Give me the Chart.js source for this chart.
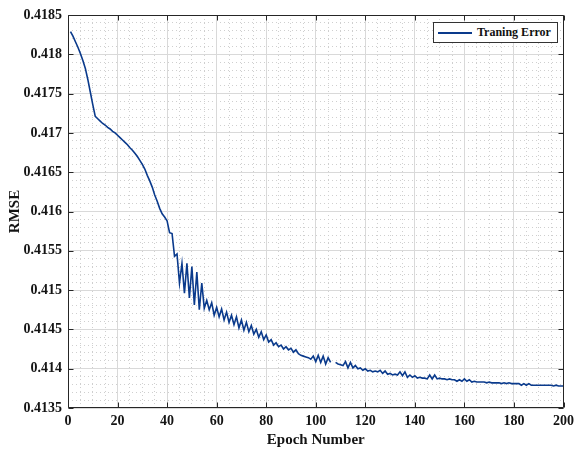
<!DOCTYPE html>
<html>
<head>
<meta charset="utf-8">
<script src="https://cdn.jsdelivr.net/npm/chart.js@4/dist/chart.umd.min.js"></script>
<style>
  html, body { margin: 0; padding: 0; background: #ffffff; }
  #wrap { position: relative; width: 579px; height: 451px; }
  #legend {
    position: absolute; left: 433px; top: 22px; width: 123px; height: 19px;
    border: 1px solid #333; background: #fff;
    font: bold 12px 'Liberation Serif', 'Times New Roman', serif; color: #111;
    display: flex; align-items: center;
  }
  #legend .swatch { display: inline-block; width: 34px; height: 2px; background: #0a3a8c; margin: 0 5px 0 4px; }
</style>
</head>
<body>
<div id="wrap">
  <canvas id="rmse-chart" width="579" height="451"></canvas>
  <div id="legend"><span class="swatch"></span><span id="legend-label"></span></div>
</div>
<script>
// Axis ticks
const xTicks = [0, 20, 40, 60, 80, 100, 120, 140, 160, 180, 200];
const yTicks = [0.4135, 0.414, 0.4145, 0.415, 0.4155, 0.416, 0.4165, 0.417, 0.4175, 0.418, 0.4185];
const yTickLabels = ['0.4135', '0.414', '0.4145', '0.415', '0.4155', '0.416', '0.4165', '0.417', '0.4175', '0.418', '0.4185'];

const seriesName = 'Traning Error';

// epochs 1..200
const epochs = Array.from({ length: 200 }, (_, i) => i + 1);

// RMSE, one value per epoch (null = break in the line)
const rmse = [
  0.41829, 0.41823, 0.41816, 0.41809, 0.41801, 0.41792, 0.41782, 0.41768, 0.41752, 0.41736,
  0.41721, 0.41718, 0.41715, 0.41712, 0.41710, 0.41707, 0.41705, 0.41702, 0.41700, 0.41697,
  0.41694, 0.41691, 0.41688, 0.41685, 0.41681, 0.41678, 0.41674, 0.41670, 0.41665, 0.41660,
  0.41654, 0.41646, 0.41639, 0.41631, 0.41621, 0.41613, 0.41604, 0.41597, 0.41593, 0.41588,
  0.41573, 0.41572, 0.41543, 0.41546, 0.41509, 0.41534, 0.41496, 0.41534, 0.41490, 0.41530,
  0.41481, 0.41523, 0.41475, 0.41509, 0.41477, 0.41487, 0.41475, 0.41484, 0.41468, 0.41478,
  0.41466, 0.41476, 0.41462, 0.41472, 0.41459, 0.41468, 0.41456, 0.41466, 0.41452, 0.41462,
  0.41449, 0.41459, 0.41447, 0.41455, 0.41444, 0.41450, 0.41440, 0.41447, 0.41437, 0.41443,
  0.41434, 0.41437, 0.41430, 0.41433, 0.41428, 0.41430, 0.41425, 0.41428, 0.41424, 0.41426,
  0.41421, 0.41424, 0.41419, 0.41417, 0.41416, 0.41415, 0.41414, 0.41412, 0.41416, 0.41409,
  0.41417, 0.41408, 0.41416, 0.41406, 0.41414, 0.41408, null,    0.41408, 0.41406, 0.41405,
  0.41404, 0.41409, 0.41401, 0.41408, 0.41401, 0.41404, 0.41400, 0.41401, 0.41398, 0.41400,
  0.41397, 0.41398, 0.41396, 0.41397, 0.41396, 0.41398, 0.41394, 0.41397, 0.41393, 0.41394,
  0.41392, 0.41393, 0.41392, 0.41396, 0.41391, 0.41396, 0.41389, 0.41392, 0.41389, 0.41391,
  0.41388, 0.41389, 0.41388, 0.41388, 0.41387, 0.41392, 0.41387, 0.41392, 0.41387, 0.41388,
  0.41387, 0.41387, 0.41386, 0.41387, 0.41386, 0.41386, 0.41384, 0.41386, 0.41384, 0.41387,
  0.41384, 0.41386, 0.41383, 0.41384, 0.41383, 0.41383, 0.41383, 0.41383, 0.41382, 0.41383,
  0.41382, 0.41382, 0.41382, 0.41382, 0.41381, 0.41382, 0.41381, 0.41382, 0.41381, 0.41381,
  0.41381, 0.41381, 0.41379, 0.41381, 0.41379, 0.41381, 0.41379, 0.41379, 0.41379, 0.41379,
  0.41379, 0.41379, 0.41379, 0.41379, 0.41379, 0.41378, 0.41379, 0.41378, 0.41378, 0.41378
];

const LINE_COLOR = '#0a3a8c';
const FRAME_COLOR = '#262626';
const TEXT_COLOR = '#141414';
const MAJOR_GRID = '#d9d9d9';
const MINOR_GRID = '#cfcfcf';
const SERIF = "'Liberation Serif', 'Times New Roman', serif";

document.getElementById('legend-label').textContent = seriesName;

const tickFont = { family: SERIF, size: 14, weight: 'bold' };
const titleFont = { family: SERIF, size: 15, weight: 'bold' };

const isMultiple = (v, step) => Math.abs(v / step - Math.round(v / step)) < 1e-6;

// MATLAB-like box with inward tick marks on all four sides
const boxFrame = {
  id: 'boxFrame',
  afterDatasetsDraw(chart) {
    const { ctx, chartArea: a, scales: { x, y } } = chart;
    const L = Math.round(a.left) + 0.5, R = Math.round(a.right) - 0.5;
    const T = Math.round(a.top) + 0.5, B = Math.round(a.bottom) - 0.5;
    ctx.save();
    ctx.strokeStyle = FRAME_COLOR;
    ctx.lineWidth = 1;
    ctx.beginPath();
    ctx.rect(L, T, R - L, B - T);
    x.ticks.forEach(t => {
      const px = Math.round(x.getPixelForValue(t.value)) + 0.5;
      ctx.moveTo(px, B); ctx.lineTo(px, B - 5);
      ctx.moveTo(px, T); ctx.lineTo(px, T + 5);
    });
    y.ticks.forEach(t => {
      const py = Math.round(y.getPixelForValue(t.value)) + 0.5;
      ctx.moveTo(L, py); ctx.lineTo(L + 5, py);
      ctx.moveTo(R, py); ctx.lineTo(R - 5, py);
    });
    ctx.stroke();
    ctx.restore();
  }
};

const ctx = document.getElementById('rmse-chart').getContext('2d');

new Chart(ctx, {
  type: 'line',
  data: {
    datasets: [{
      label: seriesName,
      data: epochs.map((e, i) => ({ x: e, y: rmse[i] })),
      borderColor: LINE_COLOR,
      borderWidth: 1.6,
      pointRadius: 0,
      tension: 0,
      spanGaps: false,
      xAxisID: 'x',
      yAxisID: 'y'
    }]
  },
  options: {
    responsive: false,
    devicePixelRatio: 1,
    animation: false,
    layout: { padding: { top: 15, right: 11, left: 0, bottom: 0 } },
    plugins: {
      legend: { display: false },
      tooltip: { enabled: false }
    },
    scales: {
      xMinor: {
        type: 'linear', position: 'bottom', min: 0, max: 200,
        ticks: { display: false, stepSize: 5 },
        grid: {
          drawTicks: false,
          color: (c) => (c.tick && isMultiple(c.tick.value, 20)) ? 'rgba(0,0,0,0)' : MINOR_GRID
        },
        border: { display: false, dash: [1, 3] },
        afterFit: (s) => { s.height = 0; }
      },
      yMinor: {
        type: 'linear', position: 'left', min: 0.4135, max: 0.4185,
        ticks: { display: false, stepSize: 0.0001 },
        grid: {
          drawTicks: false,
          color: (c) => (c.tick && isMultiple(c.tick.value, 0.0005)) ? 'rgba(0,0,0,0)' : MINOR_GRID
        },
        border: { display: false, dash: [1, 3] },
        afterFit: (s) => { s.width = 0; }
      },
      x: {
        type: 'linear', position: 'bottom', min: 0, max: 200,
        afterBuildTicks: (s) => { s.ticks = xTicks.map(v => ({ value: v })); },
        ticks: { autoSkip: false, maxRotation: 0, padding: 5, color: TEXT_COLOR, font: tickFont },
        grid: { color: MAJOR_GRID, drawTicks: false },
        border: { display: false },
        title: { display: true, text: 'Epoch Number', font: titleFont, color: TEXT_COLOR, padding: { top: 0, bottom: 2 } },
        afterFit: (s) => { s.height = 43; }
      },
      y: {
        type: 'linear', position: 'left', min: 0.4135, max: 0.4185,
        afterBuildTicks: (s) => { s.ticks = yTicks.map(v => ({ value: v })); },
        ticks: { autoSkip: false, padding: 6, color: TEXT_COLOR, font: tickFont, callback: (v, i) => yTickLabels[i] },
        grid: { color: MAJOR_GRID, drawTicks: false },
        border: { display: false },
        title: { display: true, text: 'RMSE', font: titleFont, color: TEXT_COLOR, padding: { top: 6, bottom: 0 } },
        afterFit: (s) => { s.width = 68; }
      }
    }
  },
  plugins: [boxFrame]
});
</script>
</body>
</html>
